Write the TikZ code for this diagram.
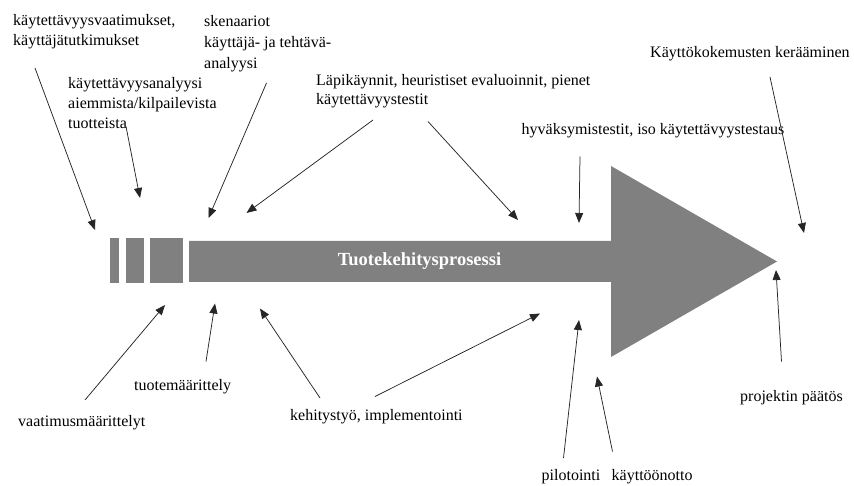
\documentclass[tikz,border=0pt]{standalone}
\usepackage{fontspec}
\setmainfont{Liberation Serif}
\usetikzlibrary{arrows.meta}
\definecolor{procgray}{RGB}{128,128,128}
\begin{document}
\begin{tikzpicture}[x=1pt,y=-1pt,
  lbl/.style={inner sep=0pt,font=\fontsize{16}{20}\selectfont,align=left},
  pointer/.style={draw=black!85,line width=0.75pt,-{Triangle[length=10pt,width=8pt]}},
  blockpart/.style={fill=procgray}]
\useasboundingbox (0,0) rectangle (854,486);
% process arrow
\fill[blockpart] (110,238.5) rectangle (118.5,283);
\fill[blockpart] (125.5,238.5) rectangle (144,283);
\fill[blockpart] (150,238.5) rectangle (183,283);
\fill[blockpart] (189,241) -- (611,241) -- (611,166) -- (777,261.5) -- (611,357) -- (611,282) -- (189,282) -- cycle;
\node[inner sep=0pt,text=white,font=\fontsize{18.5}{20}\selectfont\bfseries] (proc) at (419.5,261) {Tuotekehitysprosessi};
% labels
\node[lbl,anchor=north west] (l1) at (13,14) {käytettävyysvaatimukset,\\käyttäjätutkimukset};
\node[lbl,anchor=north west] (l2) at (68,77) {käytettävyysanalyysi\\aiemmista/kilpailevista\\tuotteista};
\node[lbl,anchor=north west,font=\fontsize{16}{21}\selectfont] (l3) at (204,15) {skenaariot\\käyttäjä- ja tehtävä-\\analyysi};
\node[lbl,anchor=north west,font=\fontsize{16}{19}\selectfont] (l4) at (316,74) {Läpikäynnit, heuristiset evaluoinnit, pienet\\käytettävyystestit};
\node[lbl,anchor=base west] (l5) at (521.5,135) {hyväksymistestit, iso käytettävyystestaus};
\node[lbl,anchor=base west] (l6) at (650,58) {Käyttökokemusten kerääminen};
\node[lbl,anchor=base west] (l7) at (18,426.5) {vaatimusmäärittelyt};
\node[lbl,anchor=base west] (l8) at (134,390) {tuotemäärittely};
\node[lbl,anchor=base west] (l9) at (290,420) {kehitystyö, implementointi};
\node[lbl,anchor=base west] (l10) at (541.5,480.5) {pilotointi};
\node[lbl,anchor=base west] (l11) at (611.5,480.5) {käyttöönotto};
\node[lbl,anchor=base west] (l12) at (740,401.5) {projektin päätös};
% arrow ends
\coordinate (s1) at (35,68);    \coordinate (t1) at (95,230);
\coordinate (s2) at (126,126.5);\coordinate (t2) at (140,198);
\coordinate (s3) at (266.5,83); \coordinate (t3) at (208.5,218);
\coordinate (s4) at (373,120);  \coordinate (t4) at (246.5,213);
\coordinate (s5) at (428,121.5);\coordinate (t5) at (518,220);
\coordinate (s6) at (580,156.5);\coordinate (t6) at (579,223);
\coordinate (s7) at (770,77);   \coordinate (t7) at (804,233);
\coordinate (b1) at (85,400);   \coordinate (u1) at (165,305);
\coordinate (b2) at (206,361.5);\coordinate (u2) at (215,303.5);
\coordinate (b3) at (320,398);  \coordinate (u3) at (260,308.5);
\coordinate (b4) at (375,396.5);\coordinate (u4) at (540,313.5);
\coordinate (b5) at (563.5,458);\coordinate (u5) at (579,320);
\coordinate (b6) at (612.5,451.5);\coordinate (u6) at (597,376.5);
\coordinate (b7) at (781.5,361.5);\coordinate (u7) at (776,270);
\foreach \a/\b in {s1/t1,s2/t2,s3/t3,s4/t4,s5/t5,s6/t6,s7/t7,b1/u1,b2/u2,b3/u3,b4/u4,b5/u5,b6/u6,b7/u7}
  \draw[pointer] (\a) -- (\b);
\end{tikzpicture}
\end{document}
